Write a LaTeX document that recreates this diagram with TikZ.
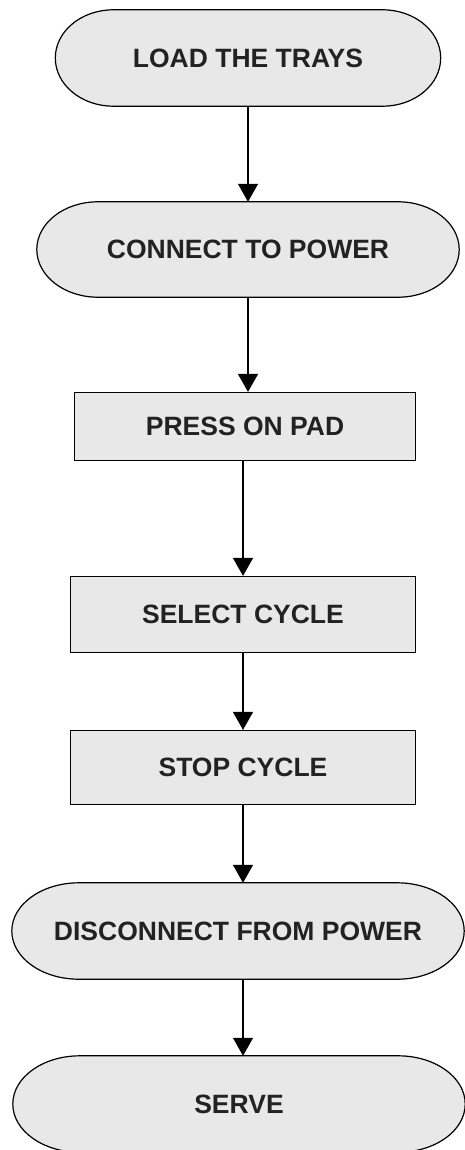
\documentclass[tikz,border=0pt]{standalone}
\usepackage{fontspec}
\setmainfont{Liberation Sans}
\usetikzlibrary{arrows.meta,calc,backgrounds}
\definecolor{boxgray}{HTML}{E8E8E8}
\definecolor{textgray}{HTML}{222222}
\tikzset{
  steptext/.style={font=\fontsize{26.5}{30}\selectfont\bfseries,text=textgray,inner sep=0pt},
  termnode/.style={steptext,rectangle,draw=none},
  boxnode/.style={steptext,rectangle,draw=black,fill=boxgray,line width=1.2pt},
  termline/.style={draw=black,fill=boxgray,line width=1.2pt},
  flow/.style={line width=1.2pt,-{Triangle[width=20pt,length=18pt]}}
}

\begin{document}
\begin{tikzpicture}[x=1pt,y=-1pt]
\useasboundingbox (0,0) rectangle (465,1150);

\node[termnode,minimum width=385pt,minimum height=96pt] (load) at (248,58) {LOAD THE TRAYS};
\node[termnode,minimum width=422pt,minimum height=95pt] (connect) at (248,249.5) {CONNECT TO POWER};
\node[boxnode,minimum width=341pt,minimum height=68pt] (press) at (245,426.5) {PRESS ON PAD};
\node[boxnode,minimum width=345pt,minimum height=76pt] (select) at (243,614.5) {SELECT CYCLE};
\node[boxnode,minimum width=345pt,minimum height=74pt] (stop) at (243,767.5) {STOP CYCLE};
\node[termnode,minimum width=452pt,minimum height=96pt] (disconnect) at (238,931) {DISCONNECT FROM POWER};
\node[termnode,minimum width=452pt,minimum height=96pt] (serve) at (239,1104) {SERVE};

% stadium outlines behind the terminal nodes
\begin{scope}[on background layer]
\foreach \name/\rx in {load/58,connect/61,disconnect/67,serve/67}{
  \path let \p1=(\name.north west), \p2=(\name.south east), \n1={abs(\y1-\y2)/2} in
    [termline] (\x1+\rx pt,\y1) -- (\x2-\rx pt,\y1)
    arc[start angle=90,end angle=-90,x radius=\rx pt,y radius=\n1]
    -- (\x1+\rx pt,\y2)
    arc[start angle=270,end angle=90,x radius=\rx pt,y radius=\n1] -- cycle;
}
\end{scope}

\draw[flow] (load.south) -- (connect.north);
\draw[flow] (connect.south) -- (connect.south |- press.north);
\draw[flow] (select.north |- press.south) -- (select.north);
\draw[flow] (select.south) -- (stop.north);
\draw[flow] (stop.south) -- (stop.south |- disconnect.north);
\draw[flow] (disconnect.south -| stop.south) -- (serve.north -| stop.south);

\end{tikzpicture}
\end{document}
